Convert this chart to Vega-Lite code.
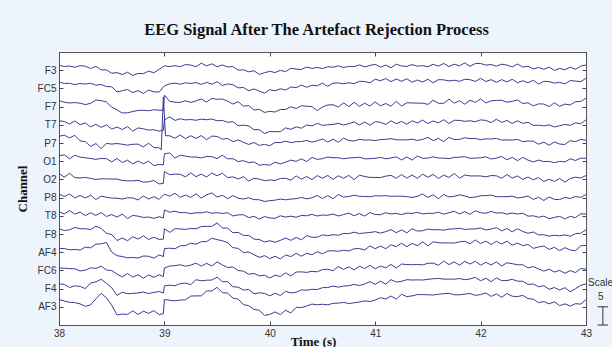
{
"$schema": "https://vega.github.io/schema/vega-lite/v6.json",
"width": 527, "height": 273,
"autosize": {"type": "none"},
"padding": {"left": 59, "top": 52, "right": 26, "bottom": 22},
"background": "#EDF4FC",
"view": {"fill": "white", "stroke": "#555555", "strokeWidth": 1},
"title": {"text": "EEG Signal After The Artefact Rejection Process", "font": "Liberation Serif", "fontSize": 16.5, "fontWeight": "bold", "color": "#111111", "anchor": "middle", "frame": "group", "offset": 13, "dx": -6},
"datasets": {
"bar": [{"t": 43.16, "v0": 0, "v1": 1}],
"cap": [{"t0": 43.11, "t1": 43.21, "v": 0}, {"t0": 43.11, "t1": 43.21, "v": 1}],
"lbl": [{"t": 43.02, "v": 2.3, "s": "Scale"}, {"t": 43.115, "v": 1.52, "s": "5"}],
"eeg": [
{"c":"F3","t":38,"v":14.28},{"c":"F3","t":38.05,"v":14.2},{"c":"F3","t":38.1,"v":14.23},{"c":"F3","t":38.15,"v":14.16},{"c":"F3","t":38.2,"v":14.25},{"c":"F3","t":38.25,"v":14.22},{"c":"F3","t":38.3,"v":14.09},{"c":"F3","t":38.35,"v":14.21},{"c":"F3","t":38.4,"v":14.02},{"c":"F3","t":38.45,"v":14.02},{"c":"F3","t":38.5,"v":13.83},{"c":"F3","t":38.55,"v":13.87},{"c":"F3","t":38.6,"v":13.76},{"c":"F3","t":38.65,"v":13.89},{"c":"F3","t":38.7,"v":13.71},{"c":"F3","t":38.75,"v":13.82},{"c":"F3","t":38.8,"v":13.81},{"c":"F3","t":38.85,"v":13.95},{"c":"F3","t":38.9,"v":13.86},{"c":"F3","t":38.95,"v":14.05},{"c":"F3","t":39,"v":14.24},{"c":"F3","t":39.05,"v":14.2},{"c":"F3","t":39.1,"v":14.25},{"c":"F3","t":39.15,"v":14.19},{"c":"F3","t":39.2,"v":14.31},{"c":"F3","t":39.25,"v":14.28},{"c":"F3","t":39.3,"v":14.19},{"c":"F3","t":39.35,"v":14.39},{"c":"F3","t":39.4,"v":14.24},{"c":"F3","t":39.45,"v":14.35},{"c":"F3","t":39.5,"v":14.19},{"c":"F3","t":39.55,"v":14.29},{"c":"F3","t":39.6,"v":14.18},{"c":"F3","t":39.65,"v":14.2},{"c":"F3","t":39.7,"v":14},{"c":"F3","t":39.75,"v":14.02},{"c":"F3","t":39.8,"v":13.91},{"c":"F3","t":39.85,"v":13.97},{"c":"F3","t":39.9,"v":13.77},{"c":"F3","t":39.95,"v":13.86},{"c":"F3","t":40,"v":13.94},{"c":"F3","t":40.05,"v":13.87},{"c":"F3","t":40.1,"v":13.99},{"c":"F3","t":40.15,"v":13.92},{"c":"F3","t":40.2,"v":14.11},{"c":"F3","t":40.25,"v":14.06},{"c":"F3","t":40.3,"v":14.04},{"c":"F3","t":40.35,"v":14.17},{"c":"F3","t":40.4,"v":14.1},{"c":"F3","t":40.45,"v":14.15},{"c":"F3","t":40.5,"v":14.09},{"c":"F3","t":40.55,"v":14.19},{"c":"F3","t":40.6,"v":14.16},{"c":"F3","t":40.65,"v":14.24},{"c":"F3","t":40.7,"v":14.15},{"c":"F3","t":40.75,"v":14.21},{"c":"F3","t":40.8,"v":14.2},{"c":"F3","t":40.85,"v":14.29},{"c":"F3","t":40.9,"v":14.18},{"c":"F3","t":40.95,"v":14.26},{"c":"F3","t":41,"v":14.32},{"c":"F3","t":41.05,"v":14.17},{"c":"F3","t":41.1,"v":14.28},{"c":"F3","t":41.15,"v":14.13},{"c":"F3","t":41.2,"v":14.33},{"c":"F3","t":41.25,"v":14.23},{"c":"F3","t":41.3,"v":14.21},{"c":"F3","t":41.35,"v":14.31},{"c":"F3","t":41.4,"v":14.22},{"c":"F3","t":41.45,"v":14.25},{"c":"F3","t":41.5,"v":14.19},{"c":"F3","t":41.55,"v":14.33},{"c":"F3","t":41.6,"v":14.22},{"c":"F3","t":41.65,"v":14.37},{"c":"F3","t":41.7,"v":14.2},{"c":"F3","t":41.75,"v":14.33},{"c":"F3","t":41.8,"v":14.24},{"c":"F3","t":41.85,"v":14.4},{"c":"F3","t":41.9,"v":14.21},{"c":"F3","t":41.95,"v":14.37},{"c":"F3","t":42,"v":14.37},{"c":"F3","t":42.05,"v":14.28},{"c":"F3","t":42.1,"v":14.31},{"c":"F3","t":42.15,"v":14.22},{"c":"F3","t":42.2,"v":14.33},{"c":"F3","t":42.25,"v":14.28},{"c":"F3","t":42.3,"v":14.18},{"c":"F3","t":42.35,"v":14.34},{"c":"F3","t":42.4,"v":14.17},{"c":"F3","t":42.45,"v":14.22},{"c":"F3","t":42.5,"v":14.07},{"c":"F3","t":42.55,"v":14.15},{"c":"F3","t":42.6,"v":14.05},{"c":"F3","t":42.65,"v":14.17},{"c":"F3","t":42.7,"v":13.99},{"c":"F3","t":42.75,"v":14.1},{"c":"F3","t":42.8,"v":14.02},{"c":"F3","t":42.85,"v":14.17},{"c":"F3","t":42.9,"v":14.05},{"c":"F3","t":42.95,"v":14.22},{"c":"F3","t":43,"v":14.29},
{"c":"FC5","t":38,"v":13.36},{"c":"FC5","t":38.05,"v":13.27},{"c":"FC5","t":38.1,"v":13.28},{"c":"FC5","t":38.15,"v":13.21},{"c":"FC5","t":38.2,"v":13.27},{"c":"FC5","t":38.25,"v":13.24},{"c":"FC5","t":38.3,"v":13.28},{"c":"FC5","t":38.35,"v":13.18},{"c":"FC5","t":38.4,"v":13.21},{"c":"FC5","t":38.45,"v":13.1},{"c":"FC5","t":38.5,"v":13.09},{"c":"FC5","t":38.55,"v":12.81},{"c":"FC5","t":38.6,"v":12.87},{"c":"FC5","t":38.65,"v":12.94},{"c":"FC5","t":38.7,"v":12.77},{"c":"FC5","t":38.75,"v":12.88},{"c":"FC5","t":38.8,"v":12.72},{"c":"FC5","t":38.85,"v":12.91},{"c":"FC5","t":38.9,"v":12.81},{"c":"FC5","t":38.95,"v":12.8},{"c":"FC5","t":39,"v":13.14},{"c":"FC5","t":39.05,"v":13.25},{"c":"FC5","t":39.1,"v":13.29},{"c":"FC5","t":39.15,"v":13.23},{"c":"FC5","t":39.2,"v":13.31},{"c":"FC5","t":39.25,"v":13.27},{"c":"FC5","t":39.3,"v":13.32},{"c":"FC5","t":39.35,"v":13.22},{"c":"FC5","t":39.4,"v":13.33},{"c":"FC5","t":39.45,"v":13.23},{"c":"FC5","t":39.5,"v":13.37},{"c":"FC5","t":39.55,"v":13.16},{"c":"FC5","t":39.6,"v":13.25},{"c":"FC5","t":39.65,"v":13.2},{"c":"FC5","t":39.7,"v":13.03},{"c":"FC5","t":39.75,"v":13.05},{"c":"FC5","t":39.8,"v":12.87},{"c":"FC5","t":39.85,"v":12.97},{"c":"FC5","t":39.9,"v":12.85},{"c":"FC5","t":39.95,"v":12.74},{"c":"FC5","t":40,"v":12.93},{"c":"FC5","t":40.05,"v":12.87},{"c":"FC5","t":40.1,"v":12.98},{"c":"FC5","t":40.15,"v":12.91},{"c":"FC5","t":40.2,"v":13.08},{"c":"FC5","t":40.25,"v":13.04},{"c":"FC5","t":40.3,"v":13.18},{"c":"FC5","t":40.35,"v":13.06},{"c":"FC5","t":40.4,"v":13.18},{"c":"FC5","t":40.45,"v":13.14},{"c":"FC5","t":40.5,"v":13.29},{"c":"FC5","t":40.55,"v":13.11},{"c":"FC5","t":40.6,"v":13.29},{"c":"FC5","t":40.65,"v":13.3},{"c":"FC5","t":40.7,"v":13.25},{"c":"FC5","t":40.75,"v":13.31},{"c":"FC5","t":40.8,"v":13.26},{"c":"FC5","t":40.85,"v":13.39},{"c":"FC5","t":40.9,"v":13.38},{"c":"FC5","t":40.95,"v":13.3},{"c":"FC5","t":41,"v":13.51},{"c":"FC5","t":41.05,"v":13.42},{"c":"FC5","t":41.1,"v":13.54},{"c":"FC5","t":41.15,"v":13.37},{"c":"FC5","t":41.2,"v":13.52},{"c":"FC5","t":41.25,"v":13.39},{"c":"FC5","t":41.3,"v":13.53},{"c":"FC5","t":41.35,"v":13.34},{"c":"FC5","t":41.4,"v":13.46},{"c":"FC5","t":41.45,"v":13.35},{"c":"FC5","t":41.5,"v":13.5},{"c":"FC5","t":41.55,"v":13.31},{"c":"FC5","t":41.6,"v":13.48},{"c":"FC5","t":41.65,"v":13.47},{"c":"FC5","t":41.7,"v":13.41},{"c":"FC5","t":41.75,"v":13.45},{"c":"FC5","t":41.8,"v":13.39},{"c":"FC5","t":41.85,"v":13.5},{"c":"FC5","t":41.9,"v":13.48},{"c":"FC5","t":41.95,"v":13.38},{"c":"FC5","t":42,"v":13.55},{"c":"FC5","t":42.05,"v":13.38},{"c":"FC5","t":42.1,"v":13.48},{"c":"FC5","t":42.15,"v":13.33},{"c":"FC5","t":42.2,"v":13.48},{"c":"FC5","t":42.25,"v":13.36},{"c":"FC5","t":42.3,"v":13.5},{"c":"FC5","t":42.35,"v":13.31},{"c":"FC5","t":42.4,"v":13.42},{"c":"FC5","t":42.45,"v":13.31},{"c":"FC5","t":42.5,"v":13.45},{"c":"FC5","t":42.55,"v":13.24},{"c":"FC5","t":42.6,"v":13.39},{"c":"FC5","t":42.65,"v":13.37},{"c":"FC5","t":42.7,"v":13.29},{"c":"FC5","t":42.75,"v":13.33},{"c":"FC5","t":42.8,"v":13.25},{"c":"FC5","t":42.85,"v":13.43},{"c":"FC5","t":42.9,"v":13.4},{"c":"FC5","t":42.95,"v":13.37},{"c":"FC5","t":43,"v":13.56},
{"c":"F7","t":38,"v":12.33},{"c":"F7","t":38.05,"v":12.24},{"c":"F7","t":38.1,"v":12.2},{"c":"F7","t":38.15,"v":12.22},{"c":"F7","t":38.2,"v":12.19},{"c":"F7","t":38.25,"v":12.11},{"c":"F7","t":38.3,"v":12.18},{"c":"F7","t":38.35,"v":12.36},{"c":"F7","t":38.4,"v":12.33},{"c":"F7","t":38.45,"v":12.25},{"c":"F7","t":38.5,"v":11.97},{"c":"F7","t":38.55,"v":11.82},{"c":"F7","t":38.6,"v":11.65},{"c":"F7","t":38.65,"v":11.66},{"c":"F7","t":38.7,"v":11.73},{"c":"F7","t":38.75,"v":11.79},{"c":"F7","t":38.8,"v":11.8},{"c":"F7","t":38.85,"v":11.77},{"c":"F7","t":38.9,"v":11.83},{"c":"F7","t":38.95,"v":11.8},{"c":"F7","t":38.99,"v":11.8},{"c":"F7","t":39,"v":12.63},{"c":"F7","t":39.05,"v":12.29},{"c":"F7","t":39.1,"v":12.24},{"c":"F7","t":39.15,"v":12.23},{"c":"F7","t":39.2,"v":12.32},{"c":"F7","t":39.25,"v":12.23},{"c":"F7","t":39.3,"v":12.31},{"c":"F7","t":39.35,"v":12.42},{"c":"F7","t":39.4,"v":12.25},{"c":"F7","t":39.45,"v":12.45},{"c":"F7","t":39.5,"v":12.4},{"c":"F7","t":39.55,"v":12.42},{"c":"F7","t":39.6,"v":12.3},{"c":"F7","t":39.65,"v":12.14},{"c":"F7","t":39.7,"v":12.27},{"c":"F7","t":39.75,"v":12.02},{"c":"F7","t":39.8,"v":12.06},{"c":"F7","t":39.85,"v":11.81},{"c":"F7","t":39.9,"v":11.85},{"c":"F7","t":39.95,"v":11.68},{"c":"F7","t":40,"v":11.74},{"c":"F7","t":40.05,"v":11.7},{"c":"F7","t":40.1,"v":11.84},{"c":"F7","t":40.15,"v":11.84},{"c":"F7","t":40.2,"v":11.99},{"c":"F7","t":40.25,"v":11.89},{"c":"F7","t":40.3,"v":12.05},{"c":"F7","t":40.35,"v":12.02},{"c":"F7","t":40.4,"v":12},{"c":"F7","t":40.45,"v":11.78},{"c":"F7","t":40.5,"v":11.98},{"c":"F7","t":40.55,"v":12.09},{"c":"F7","t":40.6,"v":12.1},{"c":"F7","t":40.65,"v":11.98},{"c":"F7","t":40.7,"v":12.21},{"c":"F7","t":40.75,"v":12},{"c":"F7","t":40.8,"v":12.24},{"c":"F7","t":40.85,"v":12.01},{"c":"F7","t":40.9,"v":12.19},{"c":"F7","t":40.95,"v":12.03},{"c":"F7","t":41,"v":12.26},{"c":"F7","t":41.05,"v":12.04},{"c":"F7","t":41.1,"v":12.17},{"c":"F7","t":41.15,"v":12.02},{"c":"F7","t":41.2,"v":12.29},{"c":"F7","t":41.25,"v":12.03},{"c":"F7","t":41.3,"v":12.21},{"c":"F7","t":41.35,"v":12.2},{"c":"F7","t":41.4,"v":12.19},{"c":"F7","t":41.45,"v":12.19},{"c":"F7","t":41.5,"v":12.12},{"c":"F7","t":41.55,"v":12.35},{"c":"F7","t":41.6,"v":12.18},{"c":"F7","t":41.65,"v":12.18},{"c":"F7","t":41.7,"v":12.41},{"c":"F7","t":41.75,"v":12.19},{"c":"F7","t":41.8,"v":12.32},{"c":"F7","t":41.85,"v":12.13},{"c":"F7","t":41.9,"v":12.35},{"c":"F7","t":41.95,"v":12.23},{"c":"F7","t":42,"v":12.42},{"c":"F7","t":42.05,"v":12.2},{"c":"F7","t":42.1,"v":12.32},{"c":"F7","t":42.15,"v":12.34},{"c":"F7","t":42.2,"v":12.35},{"c":"F7","t":42.25,"v":12.24},{"c":"F7","t":42.3,"v":12.29},{"c":"F7","t":42.35,"v":12.37},{"c":"F7","t":42.4,"v":12.17},{"c":"F7","t":42.45,"v":12.21},{"c":"F7","t":42.5,"v":12.04},{"c":"F7","t":42.55,"v":12.15},{"c":"F7","t":42.6,"v":12.14},{"c":"F7","t":42.65,"v":12},{"c":"F7","t":42.7,"v":12.21},{"c":"F7","t":42.75,"v":12.01},{"c":"F7","t":42.8,"v":12.14},{"c":"F7","t":42.85,"v":12.09},{"c":"F7","t":42.9,"v":12.27},{"c":"F7","t":42.95,"v":12.28},{"c":"F7","t":43,"v":12.46},
{"c":"T7","t":38,"v":11.22},{"c":"T7","t":38.05,"v":11.18},{"c":"T7","t":38.1,"v":11.04},{"c":"T7","t":38.15,"v":11.21},{"c":"T7","t":38.2,"v":11.01},{"c":"T7","t":38.25,"v":11.1},{"c":"T7","t":38.3,"v":10.88},{"c":"T7","t":38.35,"v":11.03},{"c":"T7","t":38.4,"v":10.86},{"c":"T7","t":38.45,"v":11},{"c":"T7","t":38.5,"v":10.76},{"c":"T7","t":38.55,"v":10.88},{"c":"T7","t":38.6,"v":10.74},{"c":"T7","t":38.65,"v":10.9},{"c":"T7","t":38.7,"v":10.65},{"c":"T7","t":38.75,"v":10.83},{"c":"T7","t":38.8,"v":10.78},{"c":"T7","t":38.85,"v":10.71},{"c":"T7","t":38.9,"v":10.73},{"c":"T7","t":38.95,"v":10.65},{"c":"T7","t":38.99,"v":10.7},{"c":"T7","t":39,"v":11.27},{"c":"T7","t":39.05,"v":11.43},{"c":"T7","t":39.1,"v":11.24},{"c":"T7","t":39.15,"v":11.33},{"c":"T7","t":39.2,"v":11.27},{"c":"T7","t":39.25,"v":11.29},{"c":"T7","t":39.3,"v":11.25},{"c":"T7","t":39.35,"v":11.31},{"c":"T7","t":39.4,"v":11.28},{"c":"T7","t":39.45,"v":11.32},{"c":"T7","t":39.5,"v":11.22},{"c":"T7","t":39.55,"v":11.24},{"c":"T7","t":39.6,"v":11.14},{"c":"T7","t":39.65,"v":11.17},{"c":"T7","t":39.7,"v":10.95},{"c":"T7","t":39.75,"v":10.98},{"c":"T7","t":39.8,"v":10.94},{"c":"T7","t":39.85,"v":10.73},{"c":"T7","t":39.9,"v":10.73},{"c":"T7","t":39.95,"v":10.52},{"c":"T7","t":40,"v":10.63},{"c":"T7","t":40.05,"v":10.62},{"c":"T7","t":40.1,"v":10.62},{"c":"T7","t":40.15,"v":10.83},{"c":"T7","t":40.2,"v":10.75},{"c":"T7","t":40.25,"v":10.89},{"c":"T7","t":40.3,"v":10.81},{"c":"T7","t":40.35,"v":10.99},{"c":"T7","t":40.4,"v":10.94},{"c":"T7","t":40.45,"v":11.08},{"c":"T7","t":40.5,"v":10.97},{"c":"T7","t":40.55,"v":11},{"c":"T7","t":40.6,"v":11.02},{"c":"T7","t":40.65,"v":11.08},{"c":"T7","t":40.7,"v":10.99},{"c":"T7","t":40.75,"v":11.06},{"c":"T7","t":40.8,"v":11.16},{"c":"T7","t":40.85,"v":10.99},{"c":"T7","t":40.9,"v":11.15},{"c":"T7","t":40.95,"v":10.98},{"c":"T7","t":41,"v":11.17},{"c":"T7","t":41.05,"v":11.14},{"c":"T7","t":41.1,"v":11.02},{"c":"T7","t":41.15,"v":11.22},{"c":"T7","t":41.2,"v":11.06},{"c":"T7","t":41.25,"v":11.19},{"c":"T7","t":41.3,"v":11.03},{"c":"T7","t":41.35,"v":11.22},{"c":"T7","t":41.4,"v":11.1},{"c":"T7","t":41.45,"v":11.26},{"c":"T7","t":41.5,"v":11.07},{"c":"T7","t":41.55,"v":11.21},{"c":"T7","t":41.6,"v":11.11},{"c":"T7","t":41.65,"v":11.28},{"c":"T7","t":41.7,"v":11.07},{"c":"T7","t":41.75,"v":11.25},{"c":"T7","t":41.8,"v":11.24},{"c":"T7","t":41.85,"v":11.19},{"c":"T7","t":41.9,"v":11.22},{"c":"T7","t":41.95,"v":11.17},{"c":"T7","t":42,"v":11.27},{"c":"T7","t":42.05,"v":11.24},{"c":"T7","t":42.1,"v":11.12},{"c":"T7","t":42.15,"v":11.31},{"c":"T7","t":42.2,"v":11.13},{"c":"T7","t":42.25,"v":11.24},{"c":"T7","t":42.3,"v":11.07},{"c":"T7","t":42.35,"v":11.22},{"c":"T7","t":42.4,"v":11.08},{"c":"T7","t":42.45,"v":11.14},{"c":"T7","t":42.5,"v":10.96},{"c":"T7","t":42.55,"v":10.98},{"c":"T7","t":42.6,"v":10.94},{"c":"T7","t":42.65,"v":11},{"c":"T7","t":42.7,"v":10.88},{"c":"T7","t":42.75,"v":10.95},{"c":"T7","t":42.8,"v":11.02},{"c":"T7","t":42.85,"v":10.97},{"c":"T7","t":42.9,"v":11.11},{"c":"T7","t":42.95,"v":11.06},{"c":"T7","t":43,"v":11.27},
{"c":"P7","t":38,"v":10.37},{"c":"P7","t":38.05,"v":10.43},{"c":"P7","t":38.1,"v":10.28},{"c":"P7","t":38.15,"v":10.42},{"c":"P7","t":38.2,"v":10.12},{"c":"P7","t":38.25,"v":10.07},{"c":"P7","t":38.3,"v":9.81},{"c":"P7","t":38.35,"v":9.97},{"c":"P7","t":38.4,"v":9.69},{"c":"P7","t":38.45,"v":9.98},{"c":"P7","t":38.5,"v":9.94},{"c":"P7","t":38.55,"v":9.97},{"c":"P7","t":38.6,"v":9.93},{"c":"P7","t":38.65,"v":9.88},{"c":"P7","t":38.7,"v":9.93},{"c":"P7","t":38.75,"v":9.94},{"c":"P7","t":38.8,"v":9.78},{"c":"P7","t":38.85,"v":9.99},{"c":"P7","t":38.9,"v":9.75},{"c":"P7","t":38.95,"v":9.74},{"c":"P7","t":38.97,"v":9.62},{"c":"P7","t":38.99,"v":12.53},{"c":"P7","t":39.01,"v":10.4},{"c":"P7","t":39.05,"v":10.4},{"c":"P7","t":39.1,"v":10.26},{"c":"P7","t":39.15,"v":10.44},{"c":"P7","t":39.2,"v":10.24},{"c":"P7","t":39.25,"v":10.4},{"c":"P7","t":39.3,"v":10.25},{"c":"P7","t":39.35,"v":10.41},{"c":"P7","t":39.4,"v":10.18},{"c":"P7","t":39.45,"v":10.38},{"c":"P7","t":39.5,"v":10.36},{"c":"P7","t":39.55,"v":10.21},{"c":"P7","t":39.6,"v":10.25},{"c":"P7","t":39.65,"v":10.07},{"c":"P7","t":39.7,"v":10.17},{"c":"P7","t":39.75,"v":10.04},{"c":"P7","t":39.8,"v":9.92},{"c":"P7","t":39.85,"v":10.03},{"c":"P7","t":39.9,"v":9.87},{"c":"P7","t":39.95,"v":9.92},{"c":"P7","t":40,"v":9.85},{"c":"P7","t":40.05,"v":10.03},{"c":"P7","t":40.1,"v":10.02},{"c":"P7","t":40.15,"v":10.1},{"c":"P7","t":40.2,"v":10.02},{"c":"P7","t":40.25,"v":10.07},{"c":"P7","t":40.3,"v":10.08},{"c":"P7","t":40.35,"v":10.14},{"c":"P7","t":40.4,"v":10.05},{"c":"P7","t":40.45,"v":10.12},{"c":"P7","t":40.5,"v":10.22},{"c":"P7","t":40.55,"v":10.05},{"c":"P7","t":40.6,"v":10.21},{"c":"P7","t":40.65,"v":10.04},{"c":"P7","t":40.7,"v":10.27},{"c":"P7","t":40.75,"v":10.13},{"c":"P7","t":40.8,"v":10.11},{"c":"P7","t":40.85,"v":10.2},{"c":"P7","t":40.9,"v":10.16},{"c":"P7","t":40.95,"v":10.17},{"c":"P7","t":41,"v":10.13},{"c":"P7","t":41.05,"v":10.19},{"c":"P7","t":41.1,"v":10.2},{"c":"P7","t":41.15,"v":10.24},{"c":"P7","t":41.2,"v":10.18},{"c":"P7","t":41.25,"v":10.17},{"c":"P7","t":41.3,"v":10.17},{"c":"P7","t":41.35,"v":10.21},{"c":"P7","t":41.4,"v":10.14},{"c":"P7","t":41.45,"v":10.2},{"c":"P7","t":41.5,"v":10.31},{"c":"P7","t":41.55,"v":10.13},{"c":"P7","t":41.6,"v":10.25},{"c":"P7","t":41.65,"v":10.07},{"c":"P7","t":41.7,"v":10.31},{"c":"P7","t":41.75,"v":10.19},{"c":"P7","t":41.8,"v":10.2},{"c":"P7","t":41.85,"v":10.29},{"c":"P7","t":41.9,"v":10.24},{"c":"P7","t":41.95,"v":10.25},{"c":"P7","t":42,"v":10.18},{"c":"P7","t":42.05,"v":10.23},{"c":"P7","t":42.1,"v":10.22},{"c":"P7","t":42.15,"v":10.25},{"c":"P7","t":42.2,"v":10.16},{"c":"P7","t":42.25,"v":10.17},{"c":"P7","t":42.3,"v":10.16},{"c":"P7","t":42.35,"v":10.2},{"c":"P7","t":42.4,"v":10.07},{"c":"P7","t":42.45,"v":10.11},{"c":"P7","t":42.5,"v":10.1},{"c":"P7","t":42.55,"v":9.93},{"c":"P7","t":42.6,"v":10.05},{"c":"P7","t":42.65,"v":9.87},{"c":"P7","t":42.7,"v":10.06},{"c":"P7","t":42.75,"v":9.94},{"c":"P7","t":42.8,"v":9.92},{"c":"P7","t":42.85,"v":10.13},{"c":"P7","t":42.9,"v":10.07},{"c":"P7","t":42.95,"v":10.2},{"c":"P7","t":43,"v":10.15},
{"c":"O1","t":38,"v":9.3},{"c":"O1","t":38.05,"v":9.35},{"c":"O1","t":38.1,"v":9.13},{"c":"O1","t":38.15,"v":9.33},{"c":"O1","t":38.2,"v":9.22},{"c":"O1","t":38.25,"v":9.19},{"c":"O1","t":38.3,"v":9.15},{"c":"O1","t":38.35,"v":9.1},{"c":"O1","t":38.4,"v":9.15},{"c":"O1","t":38.45,"v":9.14},{"c":"O1","t":38.5,"v":8.96},{"c":"O1","t":38.55,"v":9.15},{"c":"O1","t":38.6,"v":8.93},{"c":"O1","t":38.65,"v":9.06},{"c":"O1","t":38.7,"v":8.85},{"c":"O1","t":38.75,"v":9.01},{"c":"O1","t":38.8,"v":8.86},{"c":"O1","t":38.85,"v":9},{"c":"O1","t":38.9,"v":8.76},{"c":"O1","t":38.95,"v":8.82},{"c":"O1","t":38.99,"v":8.8},{"c":"O1","t":39,"v":9.41},{"c":"O1","t":39.05,"v":9.45},{"c":"O1","t":39.1,"v":9.17},{"c":"O1","t":39.15,"v":9.33},{"c":"O1","t":39.2,"v":9.28},{"c":"O1","t":39.25,"v":9.23},{"c":"O1","t":39.3,"v":9.23},{"c":"O1","t":39.35,"v":9.18},{"c":"O1","t":39.4,"v":9.26},{"c":"O1","t":39.45,"v":9.25},{"c":"O1","t":39.5,"v":9.14},{"c":"O1","t":39.55,"v":9.33},{"c":"O1","t":39.6,"v":9.13},{"c":"O1","t":39.65,"v":9.14},{"c":"O1","t":39.7,"v":8.98},{"c":"O1","t":39.75,"v":9.03},{"c":"O1","t":39.8,"v":8.92},{"c":"O1","t":39.85,"v":8.96},{"c":"O1","t":39.9,"v":8.78},{"c":"O1","t":39.95,"v":8.82},{"c":"O1","t":40,"v":8.78},{"c":"O1","t":40.05,"v":8.95},{"c":"O1","t":40.1,"v":8.85},{"c":"O1","t":40.15,"v":8.95},{"c":"O1","t":40.2,"v":9.06},{"c":"O1","t":40.25,"v":8.99},{"c":"O1","t":40.3,"v":9.13},{"c":"O1","t":40.35,"v":8.98},{"c":"O1","t":40.4,"v":9.21},{"c":"O1","t":40.45,"v":9.1},{"c":"O1","t":40.5,"v":9.14},{"c":"O1","t":40.55,"v":9.23},{"c":"O1","t":40.6,"v":9.19},{"c":"O1","t":40.65,"v":9.19},{"c":"O1","t":40.7,"v":9.13},{"c":"O1","t":40.75,"v":9.18},{"c":"O1","t":40.8,"v":9.19},{"c":"O1","t":40.85,"v":9.22},{"c":"O1","t":40.9,"v":9.13},{"c":"O1","t":40.95,"v":9.14},{"c":"O1","t":41,"v":9.16},{"c":"O1","t":41.05,"v":9.21},{"c":"O1","t":41.1,"v":9.13},{"c":"O1","t":41.15,"v":9.18},{"c":"O1","t":41.2,"v":9.24},{"c":"O1","t":41.25,"v":9.07},{"c":"O1","t":41.3,"v":9.23},{"c":"O1","t":41.35,"v":9.06},{"c":"O1","t":41.4,"v":9.28},{"c":"O1","t":41.45,"v":9.16},{"c":"O1","t":41.5,"v":9.17},{"c":"O1","t":41.55,"v":9.24},{"c":"O1","t":41.6,"v":9.17},{"c":"O1","t":41.65,"v":9.17},{"c":"O1","t":41.7,"v":9.14},{"c":"O1","t":41.75,"v":9.21},{"c":"O1","t":41.8,"v":9.22},{"c":"O1","t":41.85,"v":9.25},{"c":"O1","t":41.9,"v":9.16},{"c":"O1","t":41.95,"v":9.17},{"c":"O1","t":42,"v":9.19},{"c":"O1","t":42.05,"v":9.24},{"c":"O1","t":42.1,"v":9.12},{"c":"O1","t":42.15,"v":9.17},{"c":"O1","t":42.2,"v":9.26},{"c":"O1","t":42.25,"v":9.08},{"c":"O1","t":42.3,"v":9.21},{"c":"O1","t":42.35,"v":9.03},{"c":"O1","t":42.4,"v":9.21},{"c":"O1","t":42.45,"v":9.06},{"c":"O1","t":42.5,"v":8.96},{"c":"O1","t":42.55,"v":9.06},{"c":"O1","t":42.6,"v":8.98},{"c":"O1","t":42.65,"v":8.99},{"c":"O1","t":42.7,"v":8.92},{"c":"O1","t":42.75,"v":8.99},{"c":"O1","t":42.8,"v":8.96},{"c":"O1","t":42.85,"v":9.13},{"c":"O1","t":42.9,"v":9.04},{"c":"O1","t":42.95,"v":9.17},{"c":"O1","t":43,"v":9.16},
{"c":"O2","t":38,"v":8.33},{"c":"O2","t":38.05,"v":8.12},{"c":"O2","t":38.1,"v":8.33},{"c":"O2","t":38.15,"v":8.1},{"c":"O2","t":38.2,"v":8.08},{"c":"O2","t":38.25,"v":8.11},{"c":"O2","t":38.3,"v":8.05},{"c":"O2","t":38.35,"v":8},{"c":"O2","t":38.4,"v":8.03},{"c":"O2","t":38.45,"v":8.03},{"c":"O2","t":38.5,"v":8.02},{"c":"O2","t":38.55,"v":8.02},{"c":"O2","t":38.6,"v":7.94},{"c":"O2","t":38.65,"v":7.92},{"c":"O2","t":38.7,"v":7.92},{"c":"O2","t":38.75,"v":7.95},{"c":"O2","t":38.8,"v":7.85},{"c":"O2","t":38.85,"v":7.87},{"c":"O2","t":38.9,"v":7.94},{"c":"O2","t":38.95,"v":7.75},{"c":"O2","t":38.99,"v":7.78},{"c":"O2","t":39,"v":8.43},{"c":"O2","t":39.05,"v":8.26},{"c":"O2","t":39.1,"v":8.29},{"c":"O2","t":39.15,"v":8.28},{"c":"O2","t":39.2,"v":8.14},{"c":"O2","t":39.25,"v":8.36},{"c":"O2","t":39.3,"v":8.15},{"c":"O2","t":39.35,"v":8.29},{"c":"O2","t":39.4,"v":8.13},{"c":"O2","t":39.45,"v":8.35},{"c":"O2","t":39.5,"v":8.2},{"c":"O2","t":39.55,"v":8.34},{"c":"O2","t":39.6,"v":8.1},{"c":"O2","t":39.65,"v":8.14},{"c":"O2","t":39.7,"v":8.02},{"c":"O2","t":39.75,"v":8.15},{"c":"O2","t":39.8,"v":7.91},{"c":"O2","t":39.85,"v":8.06},{"c":"O2","t":39.9,"v":8.02},{"c":"O2","t":39.95,"v":7.93},{"c":"O2","t":40,"v":7.97},{"c":"O2","t":40.05,"v":7.94},{"c":"O2","t":40.1,"v":8.05},{"c":"O2","t":40.15,"v":8.06},{"c":"O2","t":40.2,"v":7.96},{"c":"O2","t":40.25,"v":8.19},{"c":"O2","t":40.3,"v":8.01},{"c":"O2","t":40.35,"v":8.16},{"c":"O2","t":40.4,"v":7.99},{"c":"O2","t":40.45,"v":8.21},{"c":"O2","t":40.5,"v":8.06},{"c":"O2","t":40.55,"v":8.22},{"c":"O2","t":40.6,"v":8},{"c":"O2","t":40.65,"v":8.2},{"c":"O2","t":40.7,"v":8.06},{"c":"O2","t":40.75,"v":8.22},{"c":"O2","t":40.8,"v":7.99},{"c":"O2","t":40.85,"v":8.23},{"c":"O2","t":40.9,"v":8.16},{"c":"O2","t":40.95,"v":8.11},{"c":"O2","t":41,"v":8.11},{"c":"O2","t":41.05,"v":8.1},{"c":"O2","t":41.1,"v":8.18},{"c":"O2","t":41.15,"v":8.22},{"c":"O2","t":41.2,"v":8.06},{"c":"O2","t":41.25,"v":8.27},{"c":"O2","t":41.3,"v":8.07},{"c":"O2","t":41.35,"v":8.24},{"c":"O2","t":41.4,"v":8.06},{"c":"O2","t":41.45,"v":8.29},{"c":"O2","t":41.5,"v":8.12},{"c":"O2","t":41.55,"v":8.27},{"c":"O2","t":41.6,"v":8.05},{"c":"O2","t":41.65,"v":8.24},{"c":"O2","t":41.7,"v":8.11},{"c":"O2","t":41.75,"v":8.32},{"c":"O2","t":41.8,"v":8.07},{"c":"O2","t":41.85,"v":8.24},{"c":"O2","t":41.9,"v":8.19},{"c":"O2","t":41.95,"v":8.19},{"c":"O2","t":42,"v":8.19},{"c":"O2","t":42.05,"v":8.14},{"c":"O2","t":42.1,"v":8.21},{"c":"O2","t":42.15,"v":8.2},{"c":"O2","t":42.2,"v":8.06},{"c":"O2","t":42.25,"v":8.27},{"c":"O2","t":42.3,"v":8.07},{"c":"O2","t":42.35,"v":8.19},{"c":"O2","t":42.4,"v":8},{"c":"O2","t":42.45,"v":8.13},{"c":"O2","t":42.5,"v":7.98},{"c":"O2","t":42.55,"v":8.1},{"c":"O2","t":42.6,"v":7.89},{"c":"O2","t":42.65,"v":8.01},{"c":"O2","t":42.7,"v":7.89},{"c":"O2","t":42.75,"v":8.05},{"c":"O2","t":42.8,"v":7.85},{"c":"O2","t":42.85,"v":8.05},{"c":"O2","t":42.9,"v":8.12},{"c":"O2","t":42.95,"v":8.08},{"c":"O2","t":43,"v":8.21},
{"c":"P8","t":38,"v":7.2},{"c":"P8","t":38.05,"v":7.06},{"c":"P8","t":38.1,"v":7.2},{"c":"P8","t":38.15,"v":6.98},{"c":"P8","t":38.2,"v":7.12},{"c":"P8","t":38.25,"v":6.98},{"c":"P8","t":38.3,"v":7.13},{"c":"P8","t":38.35,"v":6.89},{"c":"P8","t":38.4,"v":7.08},{"c":"P8","t":38.45,"v":7.02},{"c":"P8","t":38.5,"v":6.97},{"c":"P8","t":38.55,"v":6.97},{"c":"P8","t":38.6,"v":6.92},{"c":"P8","t":38.65,"v":6.99},{"c":"P8","t":38.7,"v":6.98},{"c":"P8","t":38.75,"v":6.87},{"c":"P8","t":38.8,"v":7.09},{"c":"P8","t":38.85,"v":6.92},{"c":"P8","t":38.9,"v":7.05},{"c":"P8","t":38.95,"v":6.9},{"c":"P8","t":39,"v":7.19},{"c":"P8","t":39.05,"v":7.08},{"c":"P8","t":39.1,"v":7.24},{"c":"P8","t":39.15,"v":7.02},{"c":"P8","t":39.2,"v":7.14},{"c":"P8","t":39.25,"v":7.01},{"c":"P8","t":39.3,"v":7.21},{"c":"P8","t":39.35,"v":6.97},{"c":"P8","t":39.4,"v":7.15},{"c":"P8","t":39.45,"v":7.26},{"c":"P8","t":39.5,"v":7.03},{"c":"P8","t":39.55,"v":7.13},{"c":"P8","t":39.6,"v":6.94},{"c":"P8","t":39.65,"v":7.11},{"c":"P8","t":39.7,"v":6.96},{"c":"P8","t":39.75,"v":6.92},{"c":"P8","t":39.8,"v":6.99},{"c":"P8","t":39.85,"v":6.89},{"c":"P8","t":39.9,"v":6.88},{"c":"P8","t":39.95,"v":6.79},{"c":"P8","t":40,"v":6.83},{"c":"P8","t":40.05,"v":6.86},{"c":"P8","t":40.1,"v":6.92},{"c":"P8","t":40.15,"v":6.88},{"c":"P8","t":40.2,"v":6.92},{"c":"P8","t":40.25,"v":6.94},{"c":"P8","t":40.3,"v":7.01},{"c":"P8","t":40.35,"v":6.93},{"c":"P8","t":40.4,"v":6.99},{"c":"P8","t":40.45,"v":7.12},{"c":"P8","t":40.5,"v":6.95},{"c":"P8","t":40.55,"v":7.11},{"c":"P8","t":40.6,"v":6.94},{"c":"P8","t":40.65,"v":7.17},{"c":"P8","t":40.7,"v":7.03},{"c":"P8","t":40.75,"v":7.06},{"c":"P8","t":40.8,"v":7.13},{"c":"P8","t":40.85,"v":7.07},{"c":"P8","t":40.9,"v":7.06},{"c":"P8","t":40.95,"v":7.05},{"c":"P8","t":41,"v":7.1},{"c":"P8","t":41.05,"v":7.09},{"c":"P8","t":41.1,"v":7.11},{"c":"P8","t":41.15,"v":7.07},{"c":"P8","t":41.2,"v":7.08},{"c":"P8","t":41.25,"v":7.08},{"c":"P8","t":41.3,"v":7.05},{"c":"P8","t":41.35,"v":7.01},{"c":"P8","t":41.4,"v":7.07},{"c":"P8","t":41.45,"v":7.2},{"c":"P8","t":41.5,"v":7.01},{"c":"P8","t":41.55,"v":7.15},{"c":"P8","t":41.6,"v":6.94},{"c":"P8","t":41.65,"v":7.17},{"c":"P8","t":41.7,"v":7.04},{"c":"P8","t":41.75,"v":7.07},{"c":"P8","t":41.8,"v":7.15},{"c":"P8","t":41.85,"v":7.09},{"c":"P8","t":41.9,"v":7},{"c":"P8","t":41.95,"v":7.03},{"c":"P8","t":42,"v":7.1},{"c":"P8","t":42.05,"v":7.11},{"c":"P8","t":42.1,"v":7.14},{"c":"P8","t":42.15,"v":7.05},{"c":"P8","t":42.2,"v":7.05},{"c":"P8","t":42.25,"v":7.05},{"c":"P8","t":42.3,"v":7.08},{"c":"P8","t":42.35,"v":6.98},{"c":"P8","t":42.4,"v":7.02},{"c":"P8","t":42.45,"v":7.09},{"c":"P8","t":42.5,"v":6.9},{"c":"P8","t":42.55,"v":7.02},{"c":"P8","t":42.6,"v":6.84},{"c":"P8","t":42.65,"v":7.03},{"c":"P8","t":42.7,"v":6.9},{"c":"P8","t":42.75,"v":6.89},{"c":"P8","t":42.8,"v":7.01},{"c":"P8","t":42.85,"v":6.95},{"c":"P8","t":42.9,"v":7.06},{"c":"P8","t":42.95,"v":7.01},{"c":"P8","t":43,"v":7.17},
{"c":"T8","t":38,"v":6.22},{"c":"T8","t":38.05,"v":6.1},{"c":"T8","t":38.1,"v":6.29},{"c":"T8","t":38.15,"v":6.09},{"c":"T8","t":38.2,"v":6.2},{"c":"T8","t":38.25,"v":6.01},{"c":"T8","t":38.3,"v":6.17},{"c":"T8","t":38.35,"v":6.02},{"c":"T8","t":38.4,"v":6.18},{"c":"T8","t":38.45,"v":5.96},{"c":"T8","t":38.5,"v":6.07},{"c":"T8","t":38.55,"v":5.93},{"c":"T8","t":38.6,"v":6.09},{"c":"T8","t":38.65,"v":5.85},{"c":"T8","t":38.7,"v":6.02},{"c":"T8","t":38.75,"v":5.98},{"c":"T8","t":38.8,"v":5.91},{"c":"T8","t":38.85,"v":5.93},{"c":"T8","t":38.9,"v":5.86},{"c":"T8","t":38.95,"v":5.95},{"c":"T8","t":38.99,"v":5.88},{"c":"T8","t":39,"v":6.32},{"c":"T8","t":39.05,"v":6.2},{"c":"T8","t":39.1,"v":6.25},{"c":"T8","t":39.15,"v":6.17},{"c":"T8","t":39.2,"v":6.18},{"c":"T8","t":39.25,"v":6.12},{"c":"T8","t":39.3,"v":6.17},{"c":"T8","t":39.35,"v":6.16},{"c":"T8","t":39.4,"v":6.22},{"c":"T8","t":39.45,"v":6.14},{"c":"T8","t":39.5,"v":6.17},{"c":"T8","t":39.55,"v":6.13},{"c":"T8","t":39.6,"v":6.17},{"c":"T8","t":39.65,"v":5.99},{"c":"T8","t":39.7,"v":6.05},{"c":"T8","t":39.75,"v":6.06},{"c":"T8","t":39.8,"v":5.9},{"c":"T8","t":39.85,"v":5.97},{"c":"T8","t":39.9,"v":5.82},{"c":"T8","t":39.95,"v":5.96},{"c":"T8","t":40,"v":5.88},{"c":"T8","t":40.05,"v":5.86},{"c":"T8","t":40.1,"v":6},{"c":"T8","t":40.15,"v":5.93},{"c":"T8","t":40.2,"v":5.98},{"c":"T8","t":40.25,"v":5.92},{"c":"T8","t":40.3,"v":6.02},{"c":"T8","t":40.35,"v":6},{"c":"T8","t":40.4,"v":6.08},{"c":"T8","t":40.45,"v":5.99},{"c":"T8","t":40.5,"v":6.04},{"c":"T8","t":40.55,"v":6.03},{"c":"T8","t":40.6,"v":6.1},{"c":"T8","t":40.65,"v":5.99},{"c":"T8","t":40.7,"v":6.07},{"c":"T8","t":40.75,"v":6.15},{"c":"T8","t":40.8,"v":6},{"c":"T8","t":40.85,"v":6.13},{"c":"T8","t":40.9,"v":5.98},{"c":"T8","t":40.95,"v":6.18},{"c":"T8","t":41,"v":6.07},{"c":"T8","t":41.05,"v":6.06},{"c":"T8","t":41.1,"v":6.17},{"c":"T8","t":41.15,"v":6.1},{"c":"T8","t":41.2,"v":6.13},{"c":"T8","t":41.25,"v":6.07},{"c":"T8","t":41.3,"v":6.15},{"c":"T8","t":41.35,"v":6.13},{"c":"T8","t":41.4,"v":6.19},{"c":"T8","t":41.45,"v":6.1},{"c":"T8","t":41.5,"v":6.14},{"c":"T8","t":41.55,"v":6.13},{"c":"T8","t":41.6,"v":6.2},{"c":"T8","t":41.65,"v":6.09},{"c":"T8","t":41.7,"v":6.17},{"c":"T8","t":41.75,"v":6.25},{"c":"T8","t":41.8,"v":6.1},{"c":"T8","t":41.85,"v":6.23},{"c":"T8","t":41.9,"v":6.08},{"c":"T8","t":41.95,"v":6.28},{"c":"T8","t":42,"v":6.17},{"c":"T8","t":42.05,"v":6.14},{"c":"T8","t":42.1,"v":6.24},{"c":"T8","t":42.15,"v":6.15},{"c":"T8","t":42.2,"v":6.17},{"c":"T8","t":42.25,"v":6.09},{"c":"T8","t":42.3,"v":6.15},{"c":"T8","t":42.35,"v":6.1},{"c":"T8","t":42.4,"v":6.14},{"c":"T8","t":42.45,"v":5.98},{"c":"T8","t":42.5,"v":6},{"c":"T8","t":42.55,"v":5.92},{"c":"T8","t":42.6,"v":5.98},{"c":"T8","t":42.65,"v":5.84},{"c":"T8","t":42.7,"v":5.91},{"c":"T8","t":42.75,"v":5.97},{"c":"T8","t":42.8,"v":5.83},{"c":"T8","t":42.85,"v":5.97},{"c":"T8","t":42.9,"v":5.9},{"c":"T8","t":42.95,"v":6.11},{"c":"T8","t":43,"v":6.1},
{"c":"F8","t":38,"v":5.29},{"c":"F8","t":38.05,"v":5.19},{"c":"F8","t":38.1,"v":5.23},{"c":"F8","t":38.15,"v":5.36},{"c":"F8","t":38.2,"v":5.29},{"c":"F8","t":38.25,"v":5.29},{"c":"F8","t":38.3,"v":5.24},{"c":"F8","t":38.35,"v":5.43},{"c":"F8","t":38.4,"v":5.3},{"c":"F8","t":38.45,"v":5.04},{"c":"F8","t":38.5,"v":4.97},{"c":"F8","t":38.55,"v":4.64},{"c":"F8","t":38.6,"v":4.78},{"c":"F8","t":38.65,"v":4.63},{"c":"F8","t":38.7,"v":4.85},{"c":"F8","t":38.75,"v":4.72},{"c":"F8","t":38.8,"v":4.9},{"c":"F8","t":38.85,"v":4.7},{"c":"F8","t":38.9,"v":4.82},{"c":"F8","t":38.95,"v":4.7},{"c":"F8","t":38.99,"v":4.72},{"c":"F8","t":39,"v":5.29},{"c":"F8","t":39.05,"v":5.09},{"c":"F8","t":39.1,"v":5.29},{"c":"F8","t":39.15,"v":5.28},{"c":"F8","t":39.2,"v":5.25},{"c":"F8","t":39.25,"v":5.31},{"c":"F8","t":39.3,"v":5.28},{"c":"F8","t":39.35,"v":5.41},{"c":"F8","t":39.4,"v":5.42},{"c":"F8","t":39.45,"v":5.42},{"c":"F8","t":39.5,"v":5.61},{"c":"F8","t":39.55,"v":5.33},{"c":"F8","t":39.6,"v":5.32},{"c":"F8","t":39.65,"v":5.07},{"c":"F8","t":39.7,"v":5.09},{"c":"F8","t":39.75,"v":4.92},{"c":"F8","t":39.8,"v":4.92},{"c":"F8","t":39.85,"v":4.72},{"c":"F8","t":39.9,"v":4.7},{"c":"F8","t":39.95,"v":4.56},{"c":"F8","t":40,"v":4.63},{"c":"F8","t":40.05,"v":4.55},{"c":"F8","t":40.1,"v":4.65},{"c":"F8","t":40.15,"v":4.78},{"c":"F8","t":40.2,"v":4.65},{"c":"F8","t":40.25,"v":4.81},{"c":"F8","t":40.3,"v":4.68},{"c":"F8","t":40.35,"v":4.91},{"c":"F8","t":40.4,"v":4.82},{"c":"F8","t":40.45,"v":4.82},{"c":"F8","t":40.5,"v":4.95},{"c":"F8","t":40.55,"v":4.91},{"c":"F8","t":40.6,"v":4.96},{"c":"F8","t":40.65,"v":4.93},{"c":"F8","t":40.7,"v":5.03},{"c":"F8","t":40.75,"v":5.02},{"c":"F8","t":40.8,"v":5.1},{"c":"F8","t":40.85,"v":5.02},{"c":"F8","t":40.9,"v":5.06},{"c":"F8","t":40.95,"v":5.08},{"c":"F8","t":41,"v":5.13},{"c":"F8","t":41.05,"v":5.05},{"c":"F8","t":41.1,"v":5.13},{"c":"F8","t":41.15,"v":5.24},{"c":"F8","t":41.2,"v":5.07},{"c":"F8","t":41.25,"v":5.23},{"c":"F8","t":41.3,"v":5.06},{"c":"F8","t":41.35,"v":5.29},{"c":"F8","t":41.4,"v":5.16},{"c":"F8","t":41.45,"v":5.18},{"c":"F8","t":41.5,"v":5.27},{"c":"F8","t":41.55,"v":5.23},{"c":"F8","t":41.6,"v":5.24},{"c":"F8","t":41.65,"v":5.21},{"c":"F8","t":41.7,"v":5.27},{"c":"F8","t":41.75,"v":5.28},{"c":"F8","t":41.8,"v":5.32},{"c":"F8","t":41.85,"v":5.25},{"c":"F8","t":41.9,"v":5.27},{"c":"F8","t":41.95,"v":5.28},{"c":"F8","t":42,"v":5.33},{"c":"F8","t":42.05,"v":5.22},{"c":"F8","t":42.1,"v":5.27},{"c":"F8","t":42.15,"v":5.35},{"c":"F8","t":42.2,"v":5.17},{"c":"F8","t":42.25,"v":5.3},{"c":"F8","t":42.3,"v":5.12},{"c":"F8","t":42.35,"v":5.29},{"c":"F8","t":42.4,"v":5.14},{"c":"F8","t":42.45,"v":5.04},{"c":"F8","t":42.5,"v":5.11},{"c":"F8","t":42.55,"v":4.95},{"c":"F8","t":42.6,"v":4.96},{"c":"F8","t":42.65,"v":4.88},{"c":"F8","t":42.7,"v":4.93},{"c":"F8","t":42.75,"v":4.9},{"c":"F8","t":42.8,"v":4.95},{"c":"F8","t":42.85,"v":4.88},{"c":"F8","t":42.9,"v":5.02},{"c":"F8","t":42.95,"v":5.04},{"c":"F8","t":43,"v":5.23},
{"c":"AF4","t":38,"v":4.2},{"c":"AF4","t":38.05,"v":4.2},{"c":"AF4","t":38.1,"v":4.13},{"c":"AF4","t":38.15,"v":4.15},{"c":"AF4","t":38.2,"v":4.12},{"c":"AF4","t":38.25,"v":4.28},{"c":"AF4","t":38.3,"v":4.24},{"c":"AF4","t":38.35,"v":4.44},{"c":"AF4","t":38.4,"v":4.46},{"c":"AF4","t":38.45,"v":4.53},{"c":"AF4","t":38.5,"v":4.01},{"c":"AF4","t":38.55,"v":3.81},{"c":"AF4","t":38.6,"v":3.76},{"c":"AF4","t":38.65,"v":3.69},{"c":"AF4","t":38.7,"v":3.71},{"c":"AF4","t":38.75,"v":3.68},{"c":"AF4","t":38.8,"v":3.79},{"c":"AF4","t":38.85,"v":3.78},{"c":"AF4","t":38.9,"v":3.67},{"c":"AF4","t":38.95,"v":3.85},{"c":"AF4","t":38.99,"v":3.76},{"c":"AF4","t":39,"v":4.2},{"c":"AF4","t":39.05,"v":4.22},{"c":"AF4","t":39.1,"v":4.19},{"c":"AF4","t":39.15,"v":4.35},{"c":"AF4","t":39.2,"v":4.36},{"c":"AF4","t":39.25,"v":4.5},{"c":"AF4","t":39.3,"v":4.44},{"c":"AF4","t":39.35,"v":4.58},{"c":"AF4","t":39.4,"v":4.58},{"c":"AF4","t":39.45,"v":4.77},{"c":"AF4","t":39.5,"v":4.69},{"c":"AF4","t":39.55,"v":4.63},{"c":"AF4","t":39.6,"v":4.52},{"c":"AF4","t":39.65,"v":4.25},{"c":"AF4","t":39.7,"v":4.21},{"c":"AF4","t":39.75,"v":3.98},{"c":"AF4","t":39.8,"v":4.01},{"c":"AF4","t":39.85,"v":3.86},{"c":"AF4","t":39.9,"v":3.72},{"c":"AF4","t":39.95,"v":3.81},{"c":"AF4","t":40,"v":3.65},{"c":"AF4","t":40.05,"v":3.78},{"c":"AF4","t":40.1,"v":3.63},{"c":"AF4","t":40.15,"v":3.85},{"c":"AF4","t":40.2,"v":3.76},{"c":"AF4","t":40.25,"v":3.94},{"c":"AF4","t":40.3,"v":3.78},{"c":"AF4","t":40.35,"v":3.94},{"c":"AF4","t":40.4,"v":3.86},{"c":"AF4","t":40.45,"v":4.03},{"c":"AF4","t":40.5,"v":3.91},{"c":"AF4","t":40.55,"v":4.07},{"c":"AF4","t":40.6,"v":4.08},{"c":"AF4","t":40.65,"v":4.05},{"c":"AF4","t":40.7,"v":4.11},{"c":"AF4","t":40.75,"v":4.07},{"c":"AF4","t":40.8,"v":4.19},{"c":"AF4","t":40.85,"v":4.2},{"c":"AF4","t":40.9,"v":4.12},{"c":"AF4","t":40.95,"v":4.35},{"c":"AF4","t":41,"v":4.19},{"c":"AF4","t":41.05,"v":4.34},{"c":"AF4","t":41.1,"v":4.19},{"c":"AF4","t":41.15,"v":4.41},{"c":"AF4","t":41.2,"v":4.3},{"c":"AF4","t":41.25,"v":4.5},{"c":"AF4","t":41.3,"v":4.3},{"c":"AF4","t":41.35,"v":4.48},{"c":"AF4","t":41.4,"v":4.36},{"c":"AF4","t":41.45,"v":4.57},{"c":"AF4","t":41.5,"v":4.35},{"c":"AF4","t":41.55,"v":4.57},{"c":"AF4","t":41.6,"v":4.52},{"c":"AF4","t":41.65,"v":4.51},{"c":"AF4","t":41.7,"v":4.51},{"c":"AF4","t":41.75,"v":4.5},{"c":"AF4","t":41.8,"v":4.57},{"c":"AF4","t":41.85,"v":4.6},{"c":"AF4","t":41.9,"v":4.46},{"c":"AF4","t":41.95,"v":4.67},{"c":"AF4","t":42,"v":4.47},{"c":"AF4","t":42.05,"v":4.61},{"c":"AF4","t":42.1,"v":4.42},{"c":"AF4","t":42.15,"v":4.6},{"c":"AF4","t":42.2,"v":4.45},{"c":"AF4","t":42.25,"v":4.61},{"c":"AF4","t":42.3,"v":4.39},{"c":"AF4","t":42.35,"v":4.5},{"c":"AF4","t":42.4,"v":4.36},{"c":"AF4","t":42.45,"v":4.43},{"c":"AF4","t":42.5,"v":4.21},{"c":"AF4","t":42.55,"v":4.29},{"c":"AF4","t":42.6,"v":4.34},{"c":"AF4","t":42.65,"v":4.15},{"c":"AF4","t":42.7,"v":4.27},{"c":"AF4","t":42.75,"v":4.08},{"c":"AF4","t":42.8,"v":4.25},{"c":"AF4","t":42.85,"v":4.12},{"c":"AF4","t":42.9,"v":4.08},{"c":"AF4","t":42.95,"v":4.35},{"c":"AF4","t":43,"v":4.37},
{"c":"FC6","t":38,"v":3.13},{"c":"FC6","t":38.05,"v":3.12},{"c":"FC6","t":38.1,"v":3.1},{"c":"FC6","t":38.15,"v":3.09},{"c":"FC6","t":38.2,"v":2.97},{"c":"FC6","t":38.25,"v":3.01},{"c":"FC6","t":38.3,"v":3.14},{"c":"FC6","t":38.35,"v":3.11},{"c":"FC6","t":38.4,"v":3.23},{"c":"FC6","t":38.45,"v":3.02},{"c":"FC6","t":38.5,"v":2.99},{"c":"FC6","t":38.55,"v":2.8},{"c":"FC6","t":38.6,"v":2.64},{"c":"FC6","t":38.65,"v":2.83},{"c":"FC6","t":38.7,"v":2.63},{"c":"FC6","t":38.75,"v":2.76},{"c":"FC6","t":38.8,"v":2.57},{"c":"FC6","t":38.85,"v":2.75},{"c":"FC6","t":38.9,"v":2.62},{"c":"FC6","t":38.95,"v":2.76},{"c":"FC6","t":38.99,"v":2.66},{"c":"FC6","t":39,"v":3.13},{"c":"FC6","t":39.05,"v":3.24},{"c":"FC6","t":39.1,"v":3.26},{"c":"FC6","t":39.15,"v":3.31},{"c":"FC6","t":39.2,"v":3.23},{"c":"FC6","t":39.25,"v":3.29},{"c":"FC6","t":39.3,"v":3.4},{"c":"FC6","t":39.35,"v":3.23},{"c":"FC6","t":39.4,"v":3.39},{"c":"FC6","t":39.45,"v":3.24},{"c":"FC6","t":39.5,"v":3.47},{"c":"FC6","t":39.55,"v":3.3},{"c":"FC6","t":39.6,"v":3.16},{"c":"FC6","t":39.65,"v":3.19},{"c":"FC6","t":39.7,"v":2.99},{"c":"FC6","t":39.75,"v":2.96},{"c":"FC6","t":39.8,"v":2.79},{"c":"FC6","t":39.85,"v":2.83},{"c":"FC6","t":39.9,"v":2.7},{"c":"FC6","t":39.95,"v":2.74},{"c":"FC6","t":40,"v":2.58},{"c":"FC6","t":40.05,"v":2.74},{"c":"FC6","t":40.1,"v":2.66},{"c":"FC6","t":40.15,"v":2.87},{"c":"FC6","t":40.2,"v":2.69},{"c":"FC6","t":40.25,"v":2.91},{"c":"FC6","t":40.3,"v":2.92},{"c":"FC6","t":40.35,"v":2.89},{"c":"FC6","t":40.4,"v":2.95},{"c":"FC6","t":40.45,"v":2.92},{"c":"FC6","t":40.5,"v":3.05},{"c":"FC6","t":40.55,"v":3.06},{"c":"FC6","t":40.6,"v":2.98},{"c":"FC6","t":40.65,"v":3.21},{"c":"FC6","t":40.7,"v":3.05},{"c":"FC6","t":40.75,"v":3.2},{"c":"FC6","t":40.8,"v":3.03},{"c":"FC6","t":40.85,"v":3.23},{"c":"FC6","t":40.9,"v":3.1},{"c":"FC6","t":40.95,"v":3.28},{"c":"FC6","t":41,"v":3.09},{"c":"FC6","t":41.05,"v":3.24},{"c":"FC6","t":41.1,"v":3.14},{"c":"FC6","t":41.15,"v":3.33},{"c":"FC6","t":41.2,"v":3.13},{"c":"FC6","t":41.25,"v":3.35},{"c":"FC6","t":41.3,"v":3.32},{"c":"FC6","t":41.35,"v":3.31},{"c":"FC6","t":41.4,"v":3.33},{"c":"FC6","t":41.45,"v":3.3},{"c":"FC6","t":41.5,"v":3.39},{"c":"FC6","t":41.55,"v":3.4},{"c":"FC6","t":41.6,"v":3.28},{"c":"FC6","t":41.65,"v":3.51},{"c":"FC6","t":41.7,"v":3.32},{"c":"FC6","t":41.75,"v":3.47},{"c":"FC6","t":41.8,"v":3.29},{"c":"FC6","t":41.85,"v":3.49},{"c":"FC6","t":41.9,"v":3.35},{"c":"FC6","t":41.95,"v":3.5},{"c":"FC6","t":42,"v":3.29},{"c":"FC6","t":42.05,"v":3.44},{"c":"FC6","t":42.1,"v":3.3},{"c":"FC6","t":42.15,"v":3.47},{"c":"FC6","t":42.2,"v":3.24},{"c":"FC6","t":42.25,"v":3.42},{"c":"FC6","t":42.3,"v":3.37},{"c":"FC6","t":42.35,"v":3.31},{"c":"FC6","t":42.4,"v":3.31},{"c":"FC6","t":42.45,"v":3.14},{"c":"FC6","t":42.5,"v":3.21},{"c":"FC6","t":42.55,"v":3.08},{"c":"FC6","t":42.6,"v":2.96},{"c":"FC6","t":42.65,"v":3.07},{"c":"FC6","t":42.7,"v":2.91},{"c":"FC6","t":42.75,"v":3},{"c":"FC6","t":42.8,"v":2.84},{"c":"FC6","t":42.85,"v":2.99},{"c":"FC6","t":42.9,"v":2.88},{"c":"FC6","t":42.95,"v":3.1},{"c":"FC6","t":43,"v":3.07},
{"c":"F4","t":38,"v":2.26},{"c":"F4","t":38.05,"v":2.23},{"c":"F4","t":38.1,"v":2.06},{"c":"F4","t":38.15,"v":2.15},{"c":"F4","t":38.2,"v":2.12},{"c":"F4","t":38.25,"v":2},{"c":"F4","t":38.3,"v":2.31},{"c":"F4","t":38.35,"v":2.37},{"c":"F4","t":38.4,"v":2.51},{"c":"F4","t":38.45,"v":2.29},{"c":"F4","t":38.5,"v":2.05},{"c":"F4","t":38.55,"v":1.63},{"c":"F4","t":38.6,"v":1.8},{"c":"F4","t":38.65,"v":1.72},{"c":"F4","t":38.7,"v":1.74},{"c":"F4","t":38.75,"v":1.76},{"c":"F4","t":38.8,"v":1.81},{"c":"F4","t":38.85,"v":1.73},{"c":"F4","t":38.9,"v":1.79},{"c":"F4","t":38.95,"v":1.84},{"c":"F4","t":38.99,"v":1.76},{"c":"F4","t":39,"v":2.15},{"c":"F4","t":39.05,"v":2.19},{"c":"F4","t":39.1,"v":2.16},{"c":"F4","t":39.15,"v":2.27},{"c":"F4","t":39.2,"v":2.3},{"c":"F4","t":39.25,"v":2.22},{"c":"F4","t":39.3,"v":2.49},{"c":"F4","t":39.35,"v":2.43},{"c":"F4","t":39.4,"v":2.46},{"c":"F4","t":39.45,"v":2.47},{"c":"F4","t":39.5,"v":2.63},{"c":"F4","t":39.55,"v":2.38},{"c":"F4","t":39.6,"v":2.38},{"c":"F4","t":39.65,"v":2.1},{"c":"F4","t":39.7,"v":2.08},{"c":"F4","t":39.75,"v":1.92},{"c":"F4","t":39.8,"v":1.95},{"c":"F4","t":39.85,"v":1.71},{"c":"F4","t":39.9,"v":1.77},{"c":"F4","t":39.95,"v":1.74},{"c":"F4","t":40,"v":1.6},{"c":"F4","t":40.05,"v":1.75},{"c":"F4","t":40.1,"v":1.62},{"c":"F4","t":40.15,"v":1.85},{"c":"F4","t":40.2,"v":1.76},{"c":"F4","t":40.25,"v":1.8},{"c":"F4","t":40.3,"v":1.93},{"c":"F4","t":40.35,"v":1.91},{"c":"F4","t":40.4,"v":1.96},{"c":"F4","t":40.45,"v":1.95},{"c":"F4","t":40.5,"v":2.05},{"c":"F4","t":40.55,"v":2.06},{"c":"F4","t":40.6,"v":2.14},{"c":"F4","t":40.65,"v":2.08},{"c":"F4","t":40.7,"v":2.14},{"c":"F4","t":40.75,"v":2.16},{"c":"F4","t":40.8,"v":2.23},{"c":"F4","t":40.85,"v":2.17},{"c":"F4","t":40.9,"v":2.25},{"c":"F4","t":40.95,"v":2.38},{"c":"F4","t":41,"v":2.23},{"c":"F4","t":41.05,"v":2.41},{"c":"F4","t":41.1,"v":2.24},{"c":"F4","t":41.15,"v":2.49},{"c":"F4","t":41.2,"v":2.36},{"c":"F4","t":41.25,"v":2.4},{"c":"F4","t":41.3,"v":2.49},{"c":"F4","t":41.35,"v":2.47},{"c":"F4","t":41.4,"v":2.48},{"c":"F4","t":41.45,"v":2.47},{"c":"F4","t":41.5,"v":2.51},{"c":"F4","t":41.55,"v":2.54},{"c":"F4","t":41.6,"v":2.56},{"c":"F4","t":41.65,"v":2.52},{"c":"F4","t":41.7,"v":2.52},{"c":"F4","t":41.75,"v":2.52},{"c":"F4","t":41.8,"v":2.55},{"c":"F4","t":41.85,"v":2.49},{"c":"F4","t":41.9,"v":2.53},{"c":"F4","t":41.95,"v":2.62},{"c":"F4","t":42,"v":2.43},{"c":"F4","t":42.05,"v":2.57},{"c":"F4","t":42.1,"v":2.38},{"c":"F4","t":42.15,"v":2.59},{"c":"F4","t":42.2,"v":2.44},{"c":"F4","t":42.25,"v":2.44},{"c":"F4","t":42.3,"v":2.51},{"c":"F4","t":42.35,"v":2.41},{"c":"F4","t":42.4,"v":2.4},{"c":"F4","t":42.45,"v":2.23},{"c":"F4","t":42.5,"v":2.25},{"c":"F4","t":42.55,"v":2.1},{"c":"F4","t":42.6,"v":2.16},{"c":"F4","t":42.65,"v":1.96},{"c":"F4","t":42.7,"v":2.06},{"c":"F4","t":42.75,"v":1.92},{"c":"F4","t":42.8,"v":2.05},{"c":"F4","t":42.85,"v":1.83},{"c":"F4","t":42.9,"v":1.99},{"c":"F4","t":42.95,"v":2.18},{"c":"F4","t":43,"v":2.26},
{"c":"AF3","t":38,"v":1.4},{"c":"AF3","t":38.05,"v":1.32},{"c":"AF3","t":38.1,"v":1.25},{"c":"AF3","t":38.15,"v":1.23},{"c":"AF3","t":38.2,"v":1.16},{"c":"AF3","t":38.25,"v":1.03},{"c":"AF3","t":38.3,"v":1.1},{"c":"AF3","t":38.35,"v":1.44},{"c":"AF3","t":38.4,"v":1.74},{"c":"AF3","t":38.45,"v":1.49},{"c":"AF3","t":38.5,"v":1.09},{"c":"AF3","t":38.55,"v":0.55},{"c":"AF3","t":38.6,"v":0.6},{"c":"AF3","t":38.65,"v":0.58},{"c":"AF3","t":38.7,"v":0.78},{"c":"AF3","t":38.75,"v":0.58},{"c":"AF3","t":38.8,"v":0.76},{"c":"AF3","t":38.85,"v":0.64},{"c":"AF3","t":38.9,"v":0.79},{"c":"AF3","t":38.95,"v":0.57},{"c":"AF3","t":38.99,"v":0.62},{"c":"AF3","t":39,"v":1.4},{"c":"AF3","t":39.05,"v":1.36},{"c":"AF3","t":39.1,"v":1.33},{"c":"AF3","t":39.15,"v":1.37},{"c":"AF3","t":39.2,"v":1.38},{"c":"AF3","t":39.25,"v":1.59},{"c":"AF3","t":39.3,"v":1.6},{"c":"AF3","t":39.35,"v":1.6},{"c":"AF3","t":39.4,"v":1.87},{"c":"AF3","t":39.45,"v":1.87},{"c":"AF3","t":39.5,"v":2.07},{"c":"AF3","t":39.55,"v":1.78},{"c":"AF3","t":39.6,"v":1.75},{"c":"AF3","t":39.65,"v":1.48},{"c":"AF3","t":39.7,"v":1.42},{"c":"AF3","t":39.75,"v":1.12},{"c":"AF3","t":39.8,"v":1.06},{"c":"AF3","t":39.85,"v":0.86},{"c":"AF3","t":39.9,"v":0.81},{"c":"AF3","t":39.95,"v":0.53},{"c":"AF3","t":40,"v":0.58},{"c":"AF3","t":40.05,"v":0.72},{"c":"AF3","t":40.1,"v":0.57},{"c":"AF3","t":40.15,"v":0.81},{"c":"AF3","t":40.2,"v":0.66},{"c":"AF3","t":40.25,"v":0.97},{"c":"AF3","t":40.3,"v":0.96},{"c":"AF3","t":40.35,"v":1.04},{"c":"AF3","t":40.4,"v":1.15},{"c":"AF3","t":40.45,"v":1.11},{"c":"AF3","t":40.5,"v":1.14},{"c":"AF3","t":40.55,"v":1.11},{"c":"AF3","t":40.6,"v":1.19},{"c":"AF3","t":40.65,"v":1.2},{"c":"AF3","t":40.7,"v":1.24},{"c":"AF3","t":40.75,"v":1.18},{"c":"AF3","t":40.8,"v":1.22},{"c":"AF3","t":40.85,"v":1.26},{"c":"AF3","t":40.9,"v":1.33},{"c":"AF3","t":40.95,"v":1.29},{"c":"AF3","t":41,"v":1.37},{"c":"AF3","t":41.05,"v":1.5},{"c":"AF3","t":41.1,"v":1.43},{"c":"AF3","t":41.15,"v":1.59},{"c":"AF3","t":41.2,"v":1.42},{"c":"AF3","t":41.25,"v":1.69},{"c":"AF3","t":41.3,"v":1.56},{"c":"AF3","t":41.35,"v":1.6},{"c":"AF3","t":41.4,"v":1.67},{"c":"AF3","t":41.45,"v":1.67},{"c":"AF3","t":41.5,"v":1.66},{"c":"AF3","t":41.55,"v":1.65},{"c":"AF3","t":41.6,"v":1.69},{"c":"AF3","t":41.65,"v":1.72},{"c":"AF3","t":41.7,"v":1.74},{"c":"AF3","t":41.75,"v":1.66},{"c":"AF3","t":41.8,"v":1.66},{"c":"AF3","t":41.85,"v":1.7},{"c":"AF3","t":41.9,"v":1.73},{"c":"AF3","t":41.95,"v":1.63},{"c":"AF3","t":42,"v":1.67},{"c":"AF3","t":42.05,"v":1.76},{"c":"AF3","t":42.1,"v":1.57},{"c":"AF3","t":42.15,"v":1.71},{"c":"AF3","t":42.2,"v":1.52},{"c":"AF3","t":42.25,"v":1.73},{"c":"AF3","t":42.3,"v":1.58},{"c":"AF3","t":42.35,"v":1.56},{"c":"AF3","t":42.4,"v":1.63},{"c":"AF3","t":42.45,"v":1.45},{"c":"AF3","t":42.5,"v":1.42},{"c":"AF3","t":42.55,"v":1.23},{"c":"AF3","t":42.6,"v":1.29},{"c":"AF3","t":42.65,"v":1.16},{"c":"AF3","t":42.7,"v":1.28},{"c":"AF3","t":42.75,"v":1.06},{"c":"AF3","t":42.8,"v":1.16},{"c":"AF3","t":42.85,"v":1.04},{"c":"AF3","t":42.9,"v":1.17},{"c":"AF3","t":42.95,"v":1.15},{"c":"AF3","t":43,"v":1.4}
]
},
"layer": [
{
"data": {"name": "eeg"},
"mark": {"type": "line", "color": "#3a3a94", "strokeWidth": 1},
"encoding": {
"x": {"field": "t", "type": "quantitative", "scale": {"domain": [38, 43], "nice": false, "zero": false},
"axis": {"orient": "bottom", "values": [38, 39, 40, 41, 42, 43], "format": "d", "domain": false, "grid": false, "tickSize": -4, "tickColor": "#444444", "labelFlush": false, "labelFont": "Liberation Sans", "labelFontSize": 10, "labelColor": "#333333", "labelPadding": 7, "title": "Time (s)", "titleFont": "Liberation Serif", "titleFontSize": 13, "titleFontWeight": "bold", "titleColor": "#111111", "titleX": 254, "titleY": 20, "titleBaseline": "alphabetic"}},
"y": {"field": "v", "type": "quantitative", "scale": {"domain": [0, 15], "nice": false, "zero": false},
"axis": {"orient": "left", "values": [1, 2, 3, 4, 5, 6, 7, 8, 9, 10, 11, 12, 13, 14], "labelExpr": "['','AF3','F4','FC6','AF4','F8','T8','P8','O2','O1','P7','T7','F7','FC5','F3'][datum.value]", "domain": false, "grid": false, "tickSize": -4, "tickColor": "#444444", "labelFont": "Liberation Sans", "labelFontSize": 10, "labelColor": "#333333", "labelPadding": 7, "title": "Channel", "titleFont": "Liberation Serif", "titleFontSize": 13, "titleFontWeight": "bold", "titleColor": "#111111", "titleX": -33, "titleY": 136.5, "titleBaseline": "alphabetic", "titleAlign": "center", "titleAngle": -90}},
"detail": {"field": "c"}
}
},
{
"data": {"name": "bar"},
"mark": {"type": "rule", "color": "#333333", "strokeWidth": 1},
"encoding": {
"x": {"field": "t", "type": "quantitative", "scale": {"domain": [38, 43], "nice": false, "zero": false},
"axis": {"orient": "top", "values": [38, 39, 40, 41, 42, 43], "labels": false, "domain": false, "grid": false, "tickSize": -4, "tickColor": "#444444", "title": null}},
"y": {"field": "v0", "type": "quantitative", "scale": {"domain": [0, 15], "nice": false, "zero": false},
"axis": {"orient": "right", "values": [1, 2, 3, 4, 5, 6, 7, 8, 9, 10, 11, 12, 13, 14], "labels": false, "domain": false, "grid": false, "tickSize": -4, "tickColor": "#444444", "title": null}},
"y2": {"field": "v1"}
}
},
{
"data": {"name": "cap"},
"mark": {"type": "rule", "color": "#333333", "strokeWidth": 1},
"encoding": {
"x": {"field": "t0", "type": "quantitative", "scale": {"domain": [38, 43], "nice": false, "zero": false}, "axis": null},
"x2": {"field": "t1"},
"y": {"field": "v", "type": "quantitative", "scale": {"domain": [0, 15], "nice": false, "zero": false}, "axis": null}
}
},
{
"data": {"name": "lbl"},
"mark": {"type": "text", "align": "left", "baseline": "middle", "font": "Liberation Sans", "fontSize": 10, "color": "#333333"},
"encoding": {
"x": {"field": "t", "type": "quantitative", "scale": {"domain": [38, 43], "nice": false, "zero": false}, "axis": null},
"y": {"field": "v", "type": "quantitative", "scale": {"domain": [0, 15], "nice": false, "zero": false}, "axis": null},
"text": {"field": "s"}
}
}
],
"resolve": {"axis": {"x": "independent", "y": "independent"}}
}
